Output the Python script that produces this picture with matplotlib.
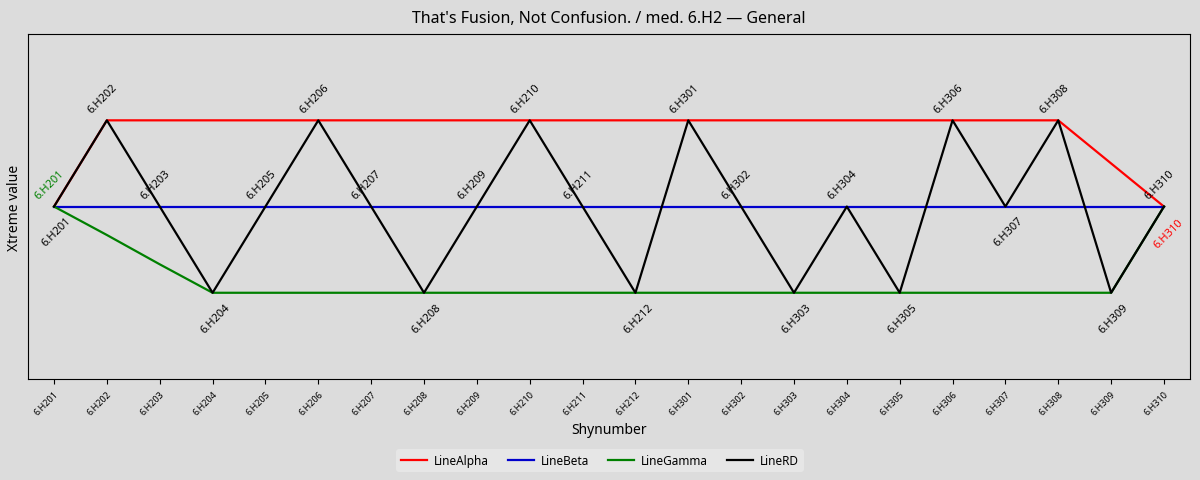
import numpy as np
import matplotlib
matplotlib.use("Agg")
import matplotlib.pyplot as plt

plt.rcParams['font.family'] = ['Noto Sans', 'DejaVu Sans']

shynumbers = ['6.H201', '6.H202', '6.H203', '6.H204', '6.H205', '6.H206', '6.H207',
              '6.H208', '6.H209', '6.H210', '6.H211', '6.H212', '6.H301', '6.H302',
              '6.H303', '6.H304', '6.H305', '6.H306', '6.H307', '6.H308', '6.H309',
              '6.H310']

line_alpha = [0, 1, 1, 1, 1, 1, 1, 1, 1, 1, 1, 1, 1, 1, 1, 1, 1, 1, 1, 1, 0.5, 0]
line_beta = [0] * 22
line_gamma = [0, -0.33, -0.67, -1, -1, -1, -1, -1, -1, -1, -1, -1, -1, -1, -1, -1,
              -1, -1, -1, -1, -1, 0]
line_rd = [0, 1, 0, -1, 0, 1, 0, -1, 0, 1, 0, -1, 1, 0, -1, 0, -1, 1, 0, 1, -1, 0]

bg = '#dcdcdc'
fig, ax = plt.subplots(figsize=(12, 4.81), dpi=100)
fig.patch.set_facecolor(bg)
ax.set_facecolor(bg)

x = np.arange(len(shynumbers))
ax.plot(x, line_alpha, color='red', lw=1.6, label='LineAlpha')
ax.plot(x, line_beta, color='#0000cc', lw=1.6, label='LineBeta')
ax.plot(x, line_gamma, color='green', lw=1.6, label='LineGamma')
ax.plot(x, line_rd, color='black', lw=1.6, label='LineRD')

# labels on the RD line: below at local minima, above otherwise
n = len(line_rd)
for i, name in enumerate(shynumbers):
    v = line_rd[i]
    left = line_rd[i - 1] if i > 0 else np.inf
    right = line_rd[i + 1] if i < n - 1 else np.inf
    if v < left and v < right:
        ax.annotate(name, (x[i], v), xytext=(2, -6), textcoords='offset points',
                    rotation=45, ha='center', va='top', fontsize=8)
    else:
        ax.annotate(name, (x[i], v), xytext=(-3, 4), textcoords='offset points',
                    rotation=45, ha='center', va='bottom', fontsize=8)

ax.annotate(shynumbers[0], (x[0], line_gamma[0]), xytext=(-3, 4), textcoords='offset points',
            rotation=45, ha='center', va='bottom', fontsize=8, color='green')
ax.annotate(shynumbers[-1], (x[-1], line_alpha[-1]), xytext=(3, -7), textcoords='offset points',
            rotation=45, ha='center', va='top', fontsize=8, color='red')

ax.set_xlim(-0.5, len(shynumbers) - 0.5)
ax.set_ylim(-2, 2)
ax.set_yticks([])
ax.set_xticks(x)
ax.set_xticklabels(shynumbers, rotation=45, ha='right', fontsize=6.5, rotation_mode='anchor')
ax.set_xlabel('Shynumber', fontsize=10)
ax.set_ylabel('Xtreme value', fontsize=10)
ax.set_title("That's Fusion, Not Confusion. / med. 6.H2 — General", fontsize=11.5, pad=9)

leg = fig.legend(loc='lower center', ncol=4, bbox_to_anchor=(0.5, 0.005), fontsize=8.5,
                 frameon=True, edgecolor='none', facecolor='#e6e6e6', framealpha=1,
                 columnspacing=1.6, handlelength=2.2, handletextpad=0.6)

fig.subplots_adjust(left=0.023, right=0.992, top=0.927, bottom=0.21)
fig.savefig('out.png', dpi=100, facecolor=bg)
